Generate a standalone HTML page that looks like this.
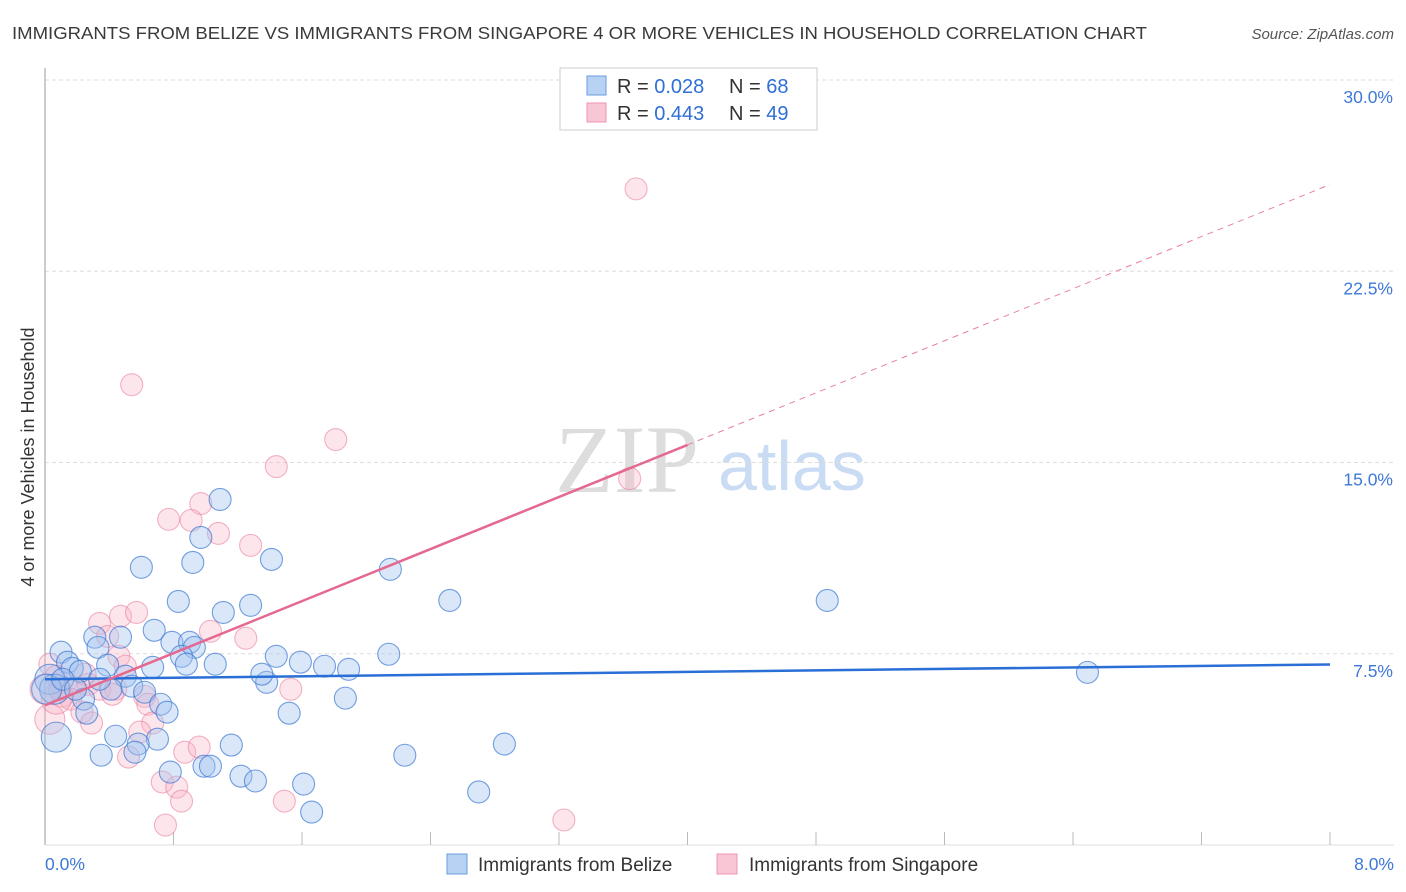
<!DOCTYPE html>
<html><head><meta charset="utf-8"><style>
body{margin:0;background:#fff;font-family:"Liberation Sans",sans-serif;}
#wrap{position:relative;width:1406px;height:892px;overflow:hidden;}
</style></head><body>
<div id="wrap">
<svg id="svg" width="1406" height="892" xmlns="http://www.w3.org/2000/svg">
<text x="12" y="39" font-size="17.5" fill="#3a3a3a" textLength="1135" lengthAdjust="spacingAndGlyphs">IMMIGRANTS FROM BELIZE VS IMMIGRANTS FROM SINGAPORE 4 OR MORE VEHICLES IN HOUSEHOLD CORRELATION CHART</text>
<text x="1394" y="39" font-size="15" font-style="italic" fill="#555" text-anchor="end">Source: ZipAtlas.com</text>
<text x="555" y="492" font-size="96" font-family="Liberation Serif,serif" fill="#ddd">ZIP</text>
<text x="718" y="490" font-size="70" fill="#c9dcf3">atlas</text>
<g id="grid"></g><g id="axes"></g><g id="marks"></g>
<text transform="translate(34,457) rotate(-90)" font-size="18" fill="#333" text-anchor="middle">4 or more Vehicles in Household</text>
<g>
<rect x="560" y="68" width="257" height="62" fill="#fff" stroke="#ccc"/>
<rect x="587" y="76" width="19" height="19" fill="#b8d2f3" stroke="#6a9ce0"/>
<rect x="587" y="103" width="19" height="19" fill="#f9c6d5" stroke="#ee94ae"/>
<text x="617" y="93" font-size="20" fill="#333">R = <tspan fill="#2f6fd6">0.028</tspan></text>
<text x="729" y="93" font-size="20" fill="#333">N = <tspan fill="#2f6fd6">68</tspan></text>
<text x="617" y="120" font-size="20" fill="#333">R = <tspan fill="#2f6fd6">0.443</tspan></text>
<text x="729" y="120" font-size="20" fill="#333">N = <tspan fill="#2f6fd6">49</tspan></text>
</g>
<g>
<rect x="447" y="854" width="20" height="20" fill="#b8d2f3" stroke="#6a9ce0"/>
<text x="478" y="871" font-size="19" fill="#333">Immigrants from Belize</text>
<rect x="717" y="854" width="20" height="20" fill="#f9c6d5" stroke="#ee94ae"/>
<text x="749" y="871" font-size="19" fill="#333">Immigrants from Singapore</text>
</g>
</svg>
</div>
<script>
const yTicks=[7.5,15,22.5,30];
const yTickLabels=["7.5%","15.0%","22.5%","30.0%"];
const xTickLabels=["0.0%","8.0%"];
const belizeX=[1.09,.97,.60,.92,1.41,2.15,.83,1.11,1.28,.68,2.52,4.87,.31,.47,.33,.79,.90,.93,.85,.88,.39,.10,.14,.17,.22,.67,1.06,1.44,1.59,1.74,1.89,2.14,6.49,.50,.54,.41,1.38,1.35,.03,.06,.62,.72,.76,.24,.26,1.87,1.52,.07,.44,.70,.58,1.16,.56,.35,2.24,2.86,.78,.99,1.03,1.22,1.31,1.61,2.70,1.66,.01,.11,.19,.34];
const belizeY=[13.55,12.06,10.89,11.08,11.20,10.81,9.55,9.12,9.40,8.42,9.59,9.59,8.15,8.15,7.75,7.95,7.95,7.75,7.40,7.09,7.05,7.56,7.17,6.93,6.81,6.97,7.09,7.40,7.17,7.01,6.89,7.48,6.77,6.62,6.23,6.11,6.38,6.70,6.50,6.11,5.99,5.52,5.21,5.72,5.17,5.76,5.17,4.23,4.27,4.15,3.96,3.92,3.64,3.52,3.52,3.96,2.86,3.09,3.09,2.70,2.51,2.39,2.08,1.29,6.11,6.50,6.11,6.50];
const singX=[3.68,.54,1.81,1.44,3.64,.97,.77,.91,1.08,1.28,.47,.57,.34,1.03,.39,1.25,.46,.50,.03,.07,.13,.19,.27,.34,.44,.62,.64,1.53,.11,.16,.03,.23,.29,.67,.59,.87,.96,.52,.73,.82,.85,1.49,.75,3.23,.07,.00,.42,.09,.25];
const singY=[25.73,18.05,15.90,14.84,14.37,13.39,12.77,12.73,12.22,11.75,8.97,9.12,8.69,8.38,8.18,8.11,7.40,7.01,7.09,6.62,6.38,6.11,6.30,6.11,6.11,5.83,5.52,6.11,5.83,5.72,4.93,5.21,4.78,4.78,4.43,3.64,3.84,3.45,2.47,2.27,1.72,1.72,.78,.98,5.72,6.11,5.91,6.11,6.70];
const belizeTrend=[6.5,7.08];
const singTrend=[5.48,25.9];
const NS="http://www.w3.org/2000/svg";
const X0=45,X1=1330,Y0=845,YTOP=80;
const sx=v=>X0+v/8*(X1-X0);
const sy=v=>Y0-v/30*(Y0-YTOP);
function mk(t,a,parent){const e=document.createElementNS(NS,t);for(const k in a)e.setAttribute(k,a[k]);parent.appendChild(e);return e;}
const grid=document.getElementById('grid'),axes=document.getElementById('axes'),marks=document.getElementById('marks');
yTicks.forEach((t,i)=>{
 const l=mk('line',{x1:X0,x2:1394,y1:sy(t),y2:sy(t),stroke:'#ddd','stroke-dasharray':'4,3'},grid);
 
 
 const tx=mk('text',{x:1393,y:sy(t)+23,'font-size':17.5,fill:'#3d78d8','text-anchor':'end'},axes);
 tx.textContent=yTickLabels[i];
 
 
});
const al=mk('line',{x1:X0,x2:X0,y1:68,y2:Y0,stroke:'#bbb','stroke-width':1.5},axes);


const bl=mk('line',{x1:X0,x2:1394,y1:Y0,y2:Y0,stroke:'#ddd'},axes);


for(let i=1;i<=10;i++){const v=i*0.8;
 const t=mk('line',{x1:sx(v),x2:sx(v),y1:832,y2:Y0,stroke:'#bbb'},axes);
 
 
}
[[0,X0,'start'],[8,1394,'end']].forEach((d,i)=>{
 const t=mk('text',{x:d[1],y:870,'font-size':17.5,fill:'#3d78d8','text-anchor':d[2]},axes);
 t.textContent=xTickLabels[i];
 
 
});
function dots(xs,ys,fill,stroke,name){
 xs.forEach((x,i)=>{
  const big=(x<0.08&&(ys[i]>4&&ys[i]<6.6))?15:11;
  const c=mk('circle',{cx:sx(x),cy:sy(ys[i]),r:big,fill:fill,stroke:stroke,'stroke-width':1.1},marks);
  
  
 });
}
dots(singX,singY,'rgba(248,180,200,0.35)','rgba(232,120,150,0.55)','singapore-point');
dots(belizeX,belizeY,'rgba(160,195,240,0.4)','rgba(60,120,210,0.7)','belize-point');
const bt=mk('line',{x1:sx(0),y1:sy(belizeTrend[0]),x2:sx(8),y2:sy(belizeTrend[1]),stroke:'#2a6fd6','stroke-width':2.5},marks);


const xs=4.0,ym=singTrend[0]+(singTrend[1]-singTrend[0])*xs/8;
const st=mk('line',{x1:sx(0),y1:sy(singTrend[0]),x2:sx(xs),y2:sy(ym),stroke:'#e4688f','stroke-width':2.5},marks);


const sd=mk('line',{x1:sx(xs),y1:sy(ym),x2:sx(8),y2:sy(singTrend[1]),stroke:'#e8809f','stroke-width':1,'stroke-dasharray':'6,5'},marks);


</script>
</body></html>
